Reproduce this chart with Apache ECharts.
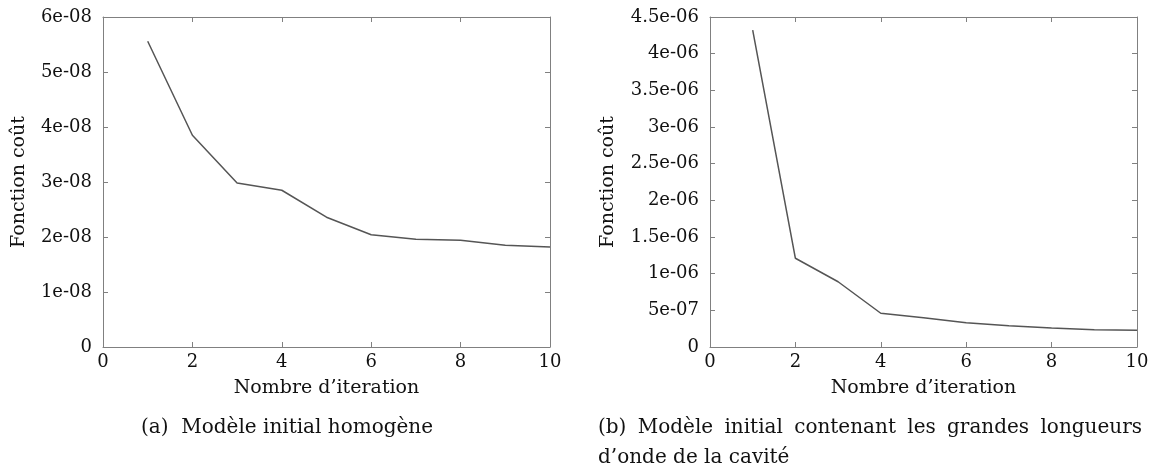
<!DOCTYPE html>
<html><head><meta charset="utf-8">
<script src="https://cdn.jsdelivr.net/npm/echarts@6/dist/echarts.min.js"></script>
<style>html,body{margin:0;padding:0;background:#fff}#c{width:1172px;height:471px}</style>
</head><body><div id="c"></div>
<script>
const iterations = [1,2,3,4,5,6,7,8,9,10];
const costA = [5.56e-8,3.85e-8,2.98e-8,2.85e-8,2.36e-8,2.04e-8,1.96e-8,1.94e-8,1.85e-8,1.82e-8];
const costB = [4.32e-6,1.21e-6,0.89e-6,0.46e-6,0.40e-6,0.33e-6,0.29e-6,0.26e-6,0.235e-6,0.23e-6];
const captionA = '(a)  Modèle initial homogène';
const captionB1 = ['(b)','Modèle','initial','contenant','les','grandes','longueurs'];
const captionB2 = 'd’onde de la cavité';
const xName = 'Nombre d’iteration';
const yName = 'Fonction coût';

const FONT = 'DejaVu Serif';
const AX = '#808080';
const TXT = '#111';
function fmt(v){
  if (Math.abs(v) < 1e-20) return '0';
  let [m,e] = v.toExponential(1).split('e');
  if (m.endsWith('.0')) m = m.slice(0,-2);
  const neg = e[0]==='-';
  let d = e.replace(/^[+-]/,'');
  if (d.length<2) d = '0'+d;
  return m + 'e' + (neg?'-':'+') + d;
}
function xAx(gi, main){
  return {type:'value', gridIndex:gi, min:0, max:10, interval:2, position: main?'bottom':'top',
    axisLine:{show:true, onZero:false, lineStyle:{color:AX, width:1}},
    axisTick:{show:true, inside:true, length:5, lineStyle:{color:AX}},
    axisLabel:{show:main, color:TXT, fontFamily:FONT, fontSize:18, margin:6},
    splitLine:{show:false},
    name: main? xName : '', nameLocation:'middle', nameGap:32,
    nameTextStyle:{color:TXT, fontFamily:FONT, fontSize:19}};
}
function yAx(gi, main, max, interval, gap){
  return {type:'value', gridIndex:gi, min:0, max:max, interval:interval, position: main?'left':'right',
    axisLine:{show:true, onZero:false, lineStyle:{color:AX, width:1}},
    axisTick:{show:true, inside:true, length:5, lineStyle:{color:AX}},
    axisLabel:{show:main, color:TXT, fontFamily:FONT, fontSize:18, margin:11, formatter:fmt},
    splitLine:{show:false},
    name: main? yName : '', nameLocation:'middle', nameGap: gap, nameRotate:90,
    nameTextStyle:{color:TXT, fontFamily:FONT, fontSize:19}};
}
const ctx = document.createElement('canvas').getContext('2d');
const CAPFONT = '20px "' + FONT + '"';
ctx.font = CAPFONT;
function justify(words, x0, x1, y){
  const ws = words.map(w=>ctx.measureText(w).width);
  const tot = ws.reduce((a,b)=>a+b,0);
  const gap = (x1-x0-tot)/(words.length-1);
  let x = x0; const out=[];
  words.forEach((w,i)=>{ out.push({type:'text', x:x, y:y, style:{text:w, font:CAPFONT, fill:TXT, textVerticalAlign:'middle'}}); x += ws[i]+gap; });
  return out;
}
const chart = echarts.init(document.getElementById('c'), null, {renderer:'canvas'});
chart.setOption({
  animation:false,
  backgroundColor:'#fff',
  grid:[{left:103, top:17, width:447, height:330},{left:710, top:17, width:427, height:330}],
  xAxis:[xAx(0,true), xAx(0,false), xAx(1,true), xAx(1,false)],
  yAxis:[yAx(0,true,6e-8,1e-8,74), yAx(0,false,6e-8,1e-8,0), yAx(1,true,4.5e-6,5e-7,92), yAx(1,false,4.5e-6,5e-7,0)],
  series:[
    {type:'line', xAxisIndex:0, yAxisIndex:0, data: iterations.map((x,i)=>[x,costA[i]]), symbol:'none',
     lineStyle:{color:'#555', width:1.5}},
    {type:'line', xAxisIndex:2, yAxisIndex:2, data: iterations.map((x,i)=>[x,costB[i]]), symbol:'none',
     lineStyle:{color:'#555', width:1.5}}
  ],
  graphic:[
    {type:'text', x:141, y:428, style:{text:captionA, font:CAPFONT, fill:TXT, textVerticalAlign:'middle'}},
    ...justify(captionB1, 598, 1142, 428),
    {type:'text', x:598, y:458, style:{text:captionB2, font:CAPFONT, fill:TXT, textVerticalAlign:'middle'}}
  ]
});
</script></body></html>
